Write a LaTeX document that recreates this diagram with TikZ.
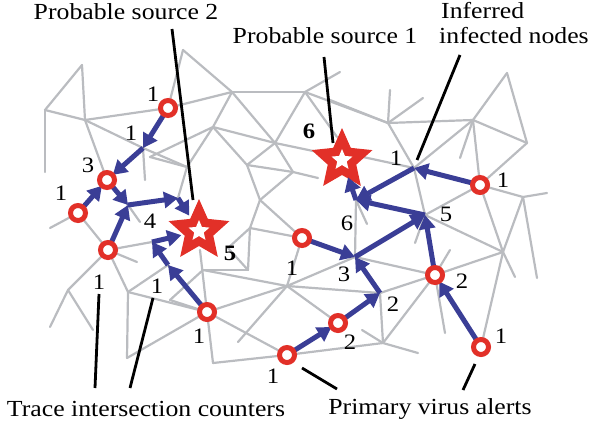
\documentclass[tikz,border=0pt]{standalone}
\usepackage{fontspec}
\setmainfont{Liberation Serif}[FakeStretch=1.12]
\usetikzlibrary{arrows.meta}
\definecolor{meshgrey}{RGB}{186,188,192}
\definecolor{arrowblue}{RGB}{58,62,150}
\definecolor{alertred}{RGB}{226,48,40}
\begin{document}
\begin{tikzpicture}[x=1pt,y=-1pt,
  mesh/.style={draw=meshgrey, line width=2.2pt, line cap=round},
  alert/.style={circle, minimum size=15pt, inner sep=0pt},
  ring/.style={draw=alertred, line width=5pt},
  flow/.style={draw=arrowblue, line width=5pt, -{Triangle[width=16pt,length=14pt]}},
  num/.style={font=\fontsize{22}{22}\selectfont, inner sep=0pt},
  numb/.style={font=\fontsize{22}{22}\selectfont\bfseries, inner sep=0pt},
  title/.style={font=\fontsize{23}{25}\selectfont, inner sep=0pt},
  leader/.style={draw=black, line width=2.8pt},
  starspot/.style={circle, minimum size=36pt, inner sep=0pt}]
\useasboundingbox (0,0) rectangle (593,425);

% ---------- alert nodes (positions) ----------
\node[alert] (a1) at (168,108) {};
\node[alert] (a3) at (107,180) {};
\node[alert] (al) at (78,213) {};
\node[alert] (all) at (108,250) {};
\node[alert] (am) at (207,312) {};
\node[alert] (ab) at (287,355) {};
\node[alert] (a2) at (338,323) {};
\node[alert] (am2) at (302,238) {};
\node[alert] (ar1) at (480,185) {};
\node[alert] (ar2) at (435,275) {};
\node[alert] (abr) at (481,347) {};
\node[starspot] (s2) at (199,231) {};
\node[starspot] (s1) at (342,160) {};

% ---------- junctions ----------
\coordinate (j1) at (143,148);
\coordinate (j4) at (128,205);
\coordinate (js) at (178,198);
\coordinate (jq) at (168,265);
\coordinate (jr) at (152,242);
\coordinate (jinf) at (414,168);
\coordinate (j6) at (356,200);
\coordinate (j5) at (425,215);
\coordinate (j3) at (355,257);
\coordinate (j2) at (380,293);

% ---------- mesh vertices ----------
\coordinate (m1) at (82,65);
\coordinate (m2) at (45,110);
\coordinate (m3) at (45,172);
\coordinate (m4) at (85,120);
\coordinate (m5) at (145,180);
\coordinate (m6) at (50,228);
\coordinate (m7) at (183,50);
\coordinate (m8) at (232,92);
\coordinate (m9) at (305,92);
\coordinate (m10) at (340,72);
\coordinate (m11) at (213,127);
\coordinate (m12) at (275,143);
\coordinate (m13) at (187,167);
\coordinate (m15) at (247,165);
\coordinate (m16) at (293,172);
\coordinate (m17) at (260,200);
\coordinate (m18) at (318,152);
\coordinate (m19) at (318,178);
\coordinate (m20) at (250,228);
\coordinate (m21) at (248,270);
\coordinate (m22) at (203,270);
\coordinate (m23) at (228,248);
\coordinate (m24) at (330,100);
\coordinate (m25) at (388,123);
\coordinate (m26) at (390,90);
\coordinate (m27) at (423,98);
\coordinate (m28) at (473,120);
\coordinate (m29) at (507,73);
\coordinate (m30) at (527,143);
\coordinate (m31) at (460,158);
\coordinate (m32) at (523,197);
\coordinate (m33) at (547,193);
\coordinate (m34) at (503,252);
\coordinate (m35) at (537,278);
\coordinate (m36) at (515,277);
\coordinate (m37) at (450,250);
\coordinate (m38) at (445,333);
\coordinate (m39) at (415,243);
\coordinate (m40) at (383,343);
\coordinate (m41) at (362,330);
\coordinate (m42) at (418,353);
\coordinate (m43) at (238,342);
\coordinate (m44) at (213,363);
\coordinate (m45) at (68,290);
\coordinate (m46) at (50,327);
\coordinate (m47) at (93,330);
\coordinate (m48) at (128,292);
\coordinate (m49) at (127,358);
\coordinate (m50) at (137,262);
\coordinate (m51) at (140,222);
\coordinate (m52) at (287,286);
\coordinate (m55) at (367,224);
\coordinate (m56) at (363,157);
\coordinate (m57) at (200,250);
\coordinate (m58) at (337,137);
\coordinate (m59) at (150,157);
\coordinate (m60) at (170,300);

% ---------- mesh edges ----------
\foreach \p/\q in {m1/m2, m1/m4, m2/m3, m2/m4, m4/a1, m4/a3, m4/j1, j1/m13, j1/m5,
  m13/m11, m13/js, a1/j1, j1/a3, a3/j4, al/m6, al/a3, al/all, all/j4, j4/js, j4/m51,
  all/m45, m45/m46, m45/m47, all/m48, all/m50, all/jr, jr/jq, jq/am, m48/jq,
  m48/m49, m49/am, m48/am, m7/a1, m7/m8, m8/m9, m9/m10, m9/m25, a1/m8, m8/m12,
  m8/m11, m9/m12, m9/m58, m11/m12, m12/m18, m12/m15, m12/m16, m11/m15, m15/m16,
  m15/m17, m16/m17, m16/m19, m17/m20, m17/am2, m20/am2, m20/m23, m20/m21, m21/m22,
  m21/m23, m57/am, m22/m52, am2/m52, m52/j3, m52/j2, m52/a2, m52/m43, m52/am,
  am/ab, am/m44, m44/ab, ab/a2, ab/m40, a2/j2, j2/m40, m40/m41, m40/m42, ar2/m40,
  j2/j3, j2/ar2, am2/j3, j3/j6, j3/ar2, j3/j5, j6/m55, j6/j5, j6/jinf, j5/m39,
  j5/jinf, j5/ar1, j5/m34, j5/ar2, m24/m25, m25/m26, m25/m27, m25/m28, m25/jinf,
  m56/jinf, m28/m29, m29/m30, m28/m30, m28/m31, m28/ar1, m30/ar1, m28/jinf,
  ar1/m32, m32/m33, m32/m34, m32/m35, ar1/m34, m34/m36, m34/abr, m34/ar2,
  ar2/m37, ar2/m38, abr/ar2, m11/m59, m59/m13, m22/m60, m60/am}
  \draw[mesh] (\p.center) -- (\q.center);

% ---------- stars (drawn shapes) ----------
\foreach \c in {s1,s2} {
  \fill[alertred, shift={(\c.center)}]
    (-90:32) -- (-54:15) -- (-18:32) -- (18:15) -- (54:32) -- (90:15)
    -- (126:32) -- (162:15) -- (198:32) -- (234:15) -- cycle;
  \fill[white, shift={(\c.center)}]
    (-90:11) -- (-54:5) -- (-18:11) -- (18:5) -- (54:11) -- (90:5)
    -- (126:11) -- (162:5) -- (198:11) -- (234:5) -- cycle;
}

% ---------- flows ----------
\draw[flow] (a1) -- (j1);
\draw[flow] (j1) -- (a3);
\draw[flow] (al) -- (a3);
\draw[flow] (a3) -- (j4);
\draw[flow] (j4) -- (js);
\draw[flow] (js) -- (s2);
\draw[flow] (all) -- (j4);
\draw[flow] (am) -- (jq);
\draw[flow] (jq) -- (jr);
\draw[flow] (jr) -- (s2);
\draw[flow] (ar1) -- (jinf);
\draw[flow] (jinf) -- (j6);
\draw[flow] (j6) -- (s1);
\draw[flow] (j5) -- (j6);
\draw[flow] (j3) -- (j5);
\draw[flow] (ar2) -- (j5);
\draw[flow] (am2) -- (j3);
\draw[flow] (j2) -- (j3);
\draw[flow] (a2) -- (j2);
\draw[flow] (ab) -- (a2);
\draw[flow] (abr) -- (ar2);

% alert rings on top
\foreach \n in {a1,a3,al,all,am,ab,a2,am2,ar1,ar2,abr}
  \draw[ring, fill=white] (\n.center) circle (7.5pt);

% ---------- counters ----------
\node[num] (c1) at (153,94) {1};
\node[num] (c2) at (131,133) {1};
\node[num] (c3) at (88,165) {3};
\node[num] (c4) at (61,193) {1};
\node[num] (c5) at (150,221) {4};
\node[num] (c6) at (99,282) {1};
\node[num] (c7) at (157,286) {1};
\node[num] (c8) at (199,336) {1};
\node[numb] (c9) at (230,253) {5};
\node[numb] (c10) at (309,131) {6};
\node[num] (c11) at (396,158) {1};
\node[num] (c12) at (503,180) {1};
\node[num] (c13) at (347,223) {6};
\node[num] (c14) at (446,214) {5};
\node[num] (c15) at (344,274) {3};
\node[num] (c16) at (292,268) {1};
\node[num] (c17) at (462,281) {2};
\node[num] (c18) at (393,304) {2};
\node[num] (c19) at (350,342) {2};
\node[num] (c20) at (273,376) {1};
\node[num] (c21) at (501,336) {1};

% ---------- titles ----------
\node[title] (t1) at (126,12) {Probable source 2};
\node[title] (t2) at (325,36) {Probable source 1};
\node[title, anchor=west] (t3) at (441,11) {Inferred};
\node[title, anchor=west] (t4) at (439,36) {infected nodes};
\node[title] (t5) at (146,409) {Trace intersection counters};
\node[title] (t6) at (430,409) {Primary virus alerts};

% ---------- leaders ----------
\coordinate (p2a) at (172,29);  \coordinate (p2b) at (193,200);
\coordinate (p1a) at (324,57);  \coordinate (p1b) at (333,143);
\coordinate (ina) at (460,55);  \coordinate (inb) at (417,160);
\coordinate (tra) at (99,294);  \coordinate (trb) at (95,388);
\coordinate (tsa) at (153,298); \coordinate (tsb) at (130,388);
\coordinate (pva) at (302,368); \coordinate (pvb) at (337,389);
\coordinate (pwa) at (475,364); \coordinate (pwb) at (463,390);
\draw[leader] (p2a) -- (p2b);
\draw[leader] (p1a) -- (p1b);
\draw[leader] (ina) -- (inb);
\draw[leader] (tra) -- (trb);
\draw[leader] (tsa) -- (tsb);
\draw[leader] (pva) -- (pvb);
\draw[leader] (pwa) -- (pwb);
\end{tikzpicture}
\end{document}
